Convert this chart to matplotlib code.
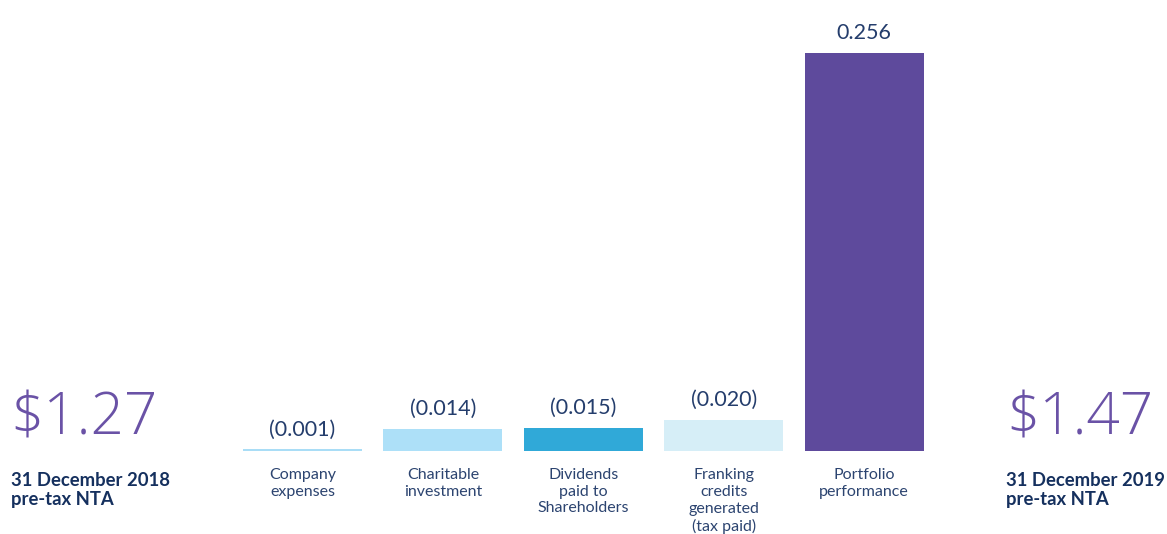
import matplotlib
matplotlib.use("Agg")
import matplotlib.pyplot as plt

categories = ["Company\nexpenses", "Charitable\ninvestment", "Dividends\npaid to\nShareholders",
              "Franking\ncredits\ngenerated\n(tax paid)", "Portfolio\nperformance"]
values = [-0.001, -0.014, -0.015, -0.020, 0.256]
value_labels = ["(0.001)", "(0.014)", "(0.015)", "(0.020)", "0.256"]
colors = ["#a9ddf6", "#ade0f8", "#30a9d8", "#d6eef7", "#5e4a9c"]
start_nta = "$1.27"
end_nta = "$1.47"
start_label = "31 December 2018\npre-tax NTA"
end_label = "31 December 2019\npre-tax NTA"

W, H = 1167, 534
fig = plt.figure(figsize=(W / 100, H / 100), dpi=100)
ax = fig.add_axes([0, 0, 1, 1])
ax.axis("off")

# pixel mapping
x0_px, step_px = 302.5, 140.4
base_px, top_px = 451, 53
scale = (base_px - top_px) / max(abs(v) for v in values)
ax.set_xlim(-x0_px / step_px, (W - x0_px) / step_px)
ax.set_ylim(-(H - base_px) / scale, base_px / scale)

heights = [abs(v) for v in values]
xs = list(range(len(values)))
ax.bar(xs, heights, width=119 / step_px, color=colors, bottom=0)

navy = "#243d6c"
for x, h, lab in zip(xs, heights, value_labels):
    ax.text(x, h + 10 / scale, lab, ha="center", va="bottom", fontsize=15.5,
            color=navy, family="Lato")

for x, c in zip(xs, categories):
    ax.text(x, -17 / scale, c, ha="center", va="top", fontsize=11.5,
            color="#2c4470", family="Lato", linespacing=1.25)

purple = "#6a52a6"
fig.text(10 / W, 1 - 434 / H, start_nta, ha="left", va="baseline", fontsize=42,
         color=purple, family="Open Sans", fontweight=300)
fig.text(1006 / W, 1 - 434 / H, end_nta, ha="left", va="baseline", fontsize=42,
         color=purple, family="Open Sans", fontweight=300)

dark = "#15305e"
fig.text(11 / W, 1 - 472 / H, start_label, ha="left", va="top", fontsize=13.3,
         color=dark, family="Lato", fontweight="bold", linespacing=1.12)
fig.text(1006 / W, 1 - 472 / H, end_label, ha="left", va="top", fontsize=13.3,
         color=dark, family="Lato", fontweight="bold", linespacing=1.12)

fig.savefig("out.png", dpi=100, facecolor="white")
